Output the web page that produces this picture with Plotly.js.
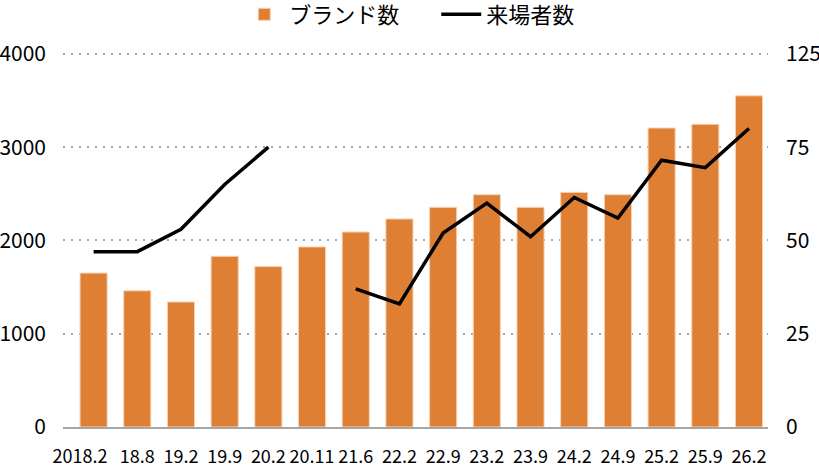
<!DOCTYPE html>
<html>
<head>
<meta charset="utf-8">
<script src="https://cdn.plot.ly/plotly-3.0.1.min.js"></script>
<style>
  html, body { margin: 0; padding: 0; background: #fff; }
  #chart { width: 819px; height: 466px; }
</style>
</head>
<body>
<div id="chart"></div>
<script>
  // ---------- data ----------
  const periods = ["2018.2", "18.8", "19.2", "19.9", "20.2", "20.11", "21.6", "22.2",
                   "22.9", "23.2", "23.9", "24.2", "24.9", "25.2", "25.9", "26.2"];
  const brands   = [1650, 1460, 1340, 1830, 1720, 1930, 2090, 2230,
                    2355, 2490, 2355, 2515, 2490, 3205, 3245, 3550];
  // visitors (right axis); 20.11 has no value -> gap in the line
  const visitors = [47, 47, 53, 65, 75, null, 37, 33,
                    52, 60, 51, 61.5, 56, 71.5, 69.5, 80];

  const leftTicks  = [0, 1000, 2000, 3000, 4000];
  const rightTicks = [0, 25, 50, 75, 100];
  const rightText  = ["0", "25", "50", "75", "125"];

  const ORANGE = "#df7f33";
  const FONT = '"Noto Sans CJK JP", "Noto Sans", sans-serif';

  // the long first label sits a little left of its bar in the original
  const xTickText = periods.map((p, i) => (i === 0 ? p + "\u2003\u2002" : p));

  const traces = [
    {
      type: "bar",
      name: "ブランド数",
      x: periods,
      y: brands,
      marker: { color: ORANGE, line: { color: "#f6d2b4", width: 1 } },
      yaxis: "y",
    },
    {
      type: "scatter",
      mode: "lines",
      name: "来場者数",
      x: periods,
      y: visitors,
      connectgaps: false,
      line: { color: "#000", width: 3.5 },
      yaxis: "y2",
    },
  ];

  const layout = {
    width: 819,
    height: 466,
    paper_bgcolor: "#fff",
    plot_bgcolor: "#fff",
    font: { family: FONT, color: "#000", size: 20 },
    // top a touch above the 4000 line so its gridline is not clipped
    margin: { l: 63, r: 51, t: 52, b: 39, autoexpand: false },
    bargap: 0.38,
    showlegend: true,
    legend: {
      orientation: "h",
      x: 0.25, xanchor: "left",
      y: 1.1, yanchor: "middle",
      font: { family: FONT, size: 22, color: "#000" },
      itemwidth: 40,
      entrywidth: 142,
      traceorder: "normal",
    },
    xaxis: {
      type: "category",
      range: [-0.7, 15.435],
      tickvals: periods,
      ticktext: xTickText,
      showgrid: false,
      zeroline: false,
      showline: true,
      linecolor: "#a6a6a6",
      linewidth: 2,
      ticks: "",
      tickangle: 0,
      ticklabelstandoff: 12,
      tickfont: { family: FONT, size: 18, color: "#000" },
      fixedrange: true,
    },
    yaxis: {
      range: [0, 4020],
      tickvals: leftTicks,
      showgrid: true,
      gridcolor: "#a6a6a6",
      griddash: "2px,6px",
      gridwidth: 2,
      zeroline: false,
      showline: false,
      ticks: "",
      ticklabelstandoff: 16,
      tickfont: { family: FONT, size: 21, color: "#000" },
    },
    yaxis2: {
      overlaying: "y",
      side: "right",
      range: [0, 100.5],
      tickvals: rightTicks,
      ticktext: rightText,
      showgrid: false,
      zeroline: false,
      showline: false,
      ticks: "",
      ticklabelstandoff: 17,
      tickfont: { family: FONT, size: 21, color: "#000" },
    },
  };

  Plotly.newPlot("chart", traces, layout, { displayModeBar: false, staticPlot: true });
</script>
</body>
</html>
